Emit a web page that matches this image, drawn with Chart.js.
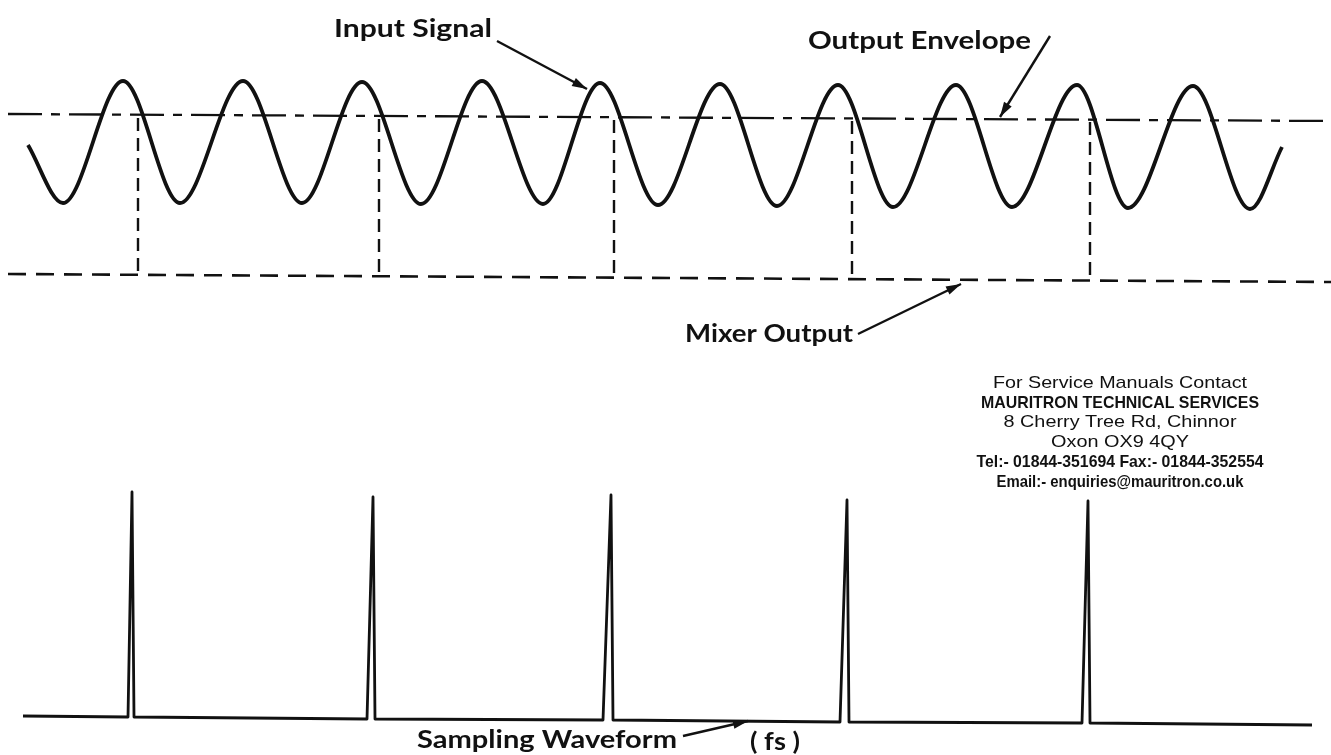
<!DOCTYPE html>
<html>
<head>
<meta charset="utf-8">
<script src="https://cdn.jsdelivr.net/npm/chart.js@4/dist/chart.umd.min.js"></script>
<style>
  html, body { margin: 0; background: #fff; }
  #wrap { width: 1331px; height: 755px; }
</style>
</head>
<body>
<div id="wrap"><canvas id="diagram"></canvas></div>
<script>
// everything is in picture units (x right, y down)

// input signal: start, troughs and peaks of the trace
const inputX = [28, 63, 123, 180, 243, 302, 362, 421, 482, 543, 600, 658, 720, 777, 838, 893, 956, 1012, 1077, 1128, 1193, 1250, 1282];
const inputY = [145, 203, 81, 203, 81, 203, 82, 204, 81, 204, 83, 205, 84, 206, 85, 207, 85, 207, 85, 208, 86, 209, 147];

// output envelope (dash-dot) and mixer output (dashed) end points
const envelopeX = [8, 1331];
const envelopeY = [114, 121];
const mixerX = [8, 1331];
const mixerY = [274, 282];

// sample instants: dashed drops from the envelope to the mixer line
const gateX = [138, 379, 614, 852, 1090];
const gateTop = [118, 119, 120, 121, 122];
const gateBottom = [275, 276, 278, 279, 281];

// sampling waveform: baseline with narrow pulses
const sampleX = [23, 128, 132, 134, 367, 373, 375, 603, 611, 613, 840, 847, 849, 1082, 1088, 1090, 1312];
const sampleY = [716, 717, 492, 717, 719, 497, 719, 720, 495, 720, 722, 500, 722, 723, 501, 723, 725];

// callout arrows: [tailX, tailY, tipX, tipY]
const arrowInput = [497, 41, 587, 89];
const arrowEnvelope = [1050, 36, 1000, 117];
const arrowMixer = [858, 334, 961, 284];
const arrowSampling = [683, 736, 748, 721];

const contactLines = [
  'For Service Manuals Contact',
  'MAURITRON TECHNICAL SERVICES',
  '8 Cherry Tree Rd, Chinnor',
  'Oxon OX9 4QY',
  'Tel:- 01844-351694 Fax:- 01844-352554',
  'Email:- enquiries@mauritron.co.uk'
];
const contactBold = [false, true, false, false, true, true];

const pts = (xs, ys) => xs.map((x, i) => ({ x, y: ys[i] }));

const gatePoints = [];
gateX.forEach((x, i) => {
  gatePoints.push({ x, y: gateTop[i] }, { x, y: gateBottom[i] }, { x, y: null });
});

const arrowSet = a => ({
  data: [{ x: a[0], y: a[1] }, { x: a[2], y: a[3] }],
  borderColor: '#111',
  borderWidth: 2.4,
  pointRadius: 0,
  arrow: true
});

// labels drawn in picture units; w = target width
const labels = [
  { text: 'Input Signal', x: 334, y: 37, w: 158 },
  { text: 'Output Envelope', x: 808, y: 49, w: 223 },
  { text: 'Mixer Output', x: 685, y: 342, w: 168 },
  { text: 'Sampling Waveform', x: 417, y: 748, w: 260 },
  { text: '( fs )', x: 750, y: 750, w: 50 }
];

const annotate = {
  id: 'annotate',
  afterDatasetsDraw(chart) {
    const { ctx, scales: { x, y } } = chart;
    ctx.save();
    ctx.fillStyle = '#111';

    // arrow heads
    chart.data.datasets.forEach((ds, i) => {
      if (!ds.arrow) return;
      const p = chart.getDatasetMeta(i).data;
      const a = p[0], b = p[p.length - 1];
      const ang = Math.atan2(b.y - a.y, b.x - a.x);
      const len = 15, half = 4.5;
      ctx.beginPath();
      ctx.moveTo(b.x, b.y);
      ctx.lineTo(b.x - len * Math.cos(ang) + half * Math.sin(ang), b.y - len * Math.sin(ang) - half * Math.cos(ang));
      ctx.lineTo(b.x - len * Math.cos(ang) - half * Math.sin(ang), b.y - len * Math.sin(ang) + half * Math.cos(ang));
      ctx.closePath();
      ctx.fill();
    });

    // big labels, stretched to the scanned width
    ctx.textBaseline = 'alphabetic';
    ctx.font = 'bold 25px Lato';
    labels.forEach(l => {
      const m = ctx.measureText(l.text).width;
      ctx.save();
      ctx.translate(x.getPixelForValue(l.x), y.getPixelForValue(l.y));
      ctx.scale(l.w / m, 1);
      ctx.fillText(l.text, 0, 0);
      ctx.restore();
    });

    // contact block
    const cx = x.getPixelForValue(1120);
    const base = [388, 408, 427, 447, 467, 487];
    const widths = [254, 278, 233, 138, 287, 247];
    ctx.textAlign = 'center';
    contactLines.forEach((t, i) => {
      ctx.font = (contactBold[i] ? 'bold ' : '') + '17px "Liberation Sans"';
      const m = ctx.measureText(t).width;
      ctx.save();
      ctx.translate(cx, y.getPixelForValue(base[i]));
      ctx.scale(widths[i] / m, 1);
      ctx.fillText(t, 0, 0);
      ctx.restore();
    });
    ctx.restore();
  }
};

new Chart(document.getElementById('diagram'), {
  type: 'line',
  data: {
    datasets: [
      {
        label: 'Input Signal',
        data: pts(inputX, inputY),
        borderColor: '#111',
        borderWidth: 3.8,
        cubicInterpolationMode: 'monotone',
        pointRadius: 0
      },
      {
        label: 'Output Envelope',
        data: pts(envelopeX, envelopeY),
        borderColor: '#111',
        borderWidth: 2.3,
        borderDash: [34, 9, 9, 9],
        pointRadius: 0
      },
      {
        label: 'Mixer Output',
        data: pts(mixerX, mixerY),
        borderColor: '#111',
        borderWidth: 2.6,
        borderDash: [18, 10],
        pointRadius: 0
      },
      {
        label: 'Sample drops',
        data: gatePoints,
        borderColor: '#111',
        borderWidth: 2.4,
        borderDash: [13, 7],
        spanGaps: false,
        pointRadius: 0
      },
      {
        label: 'Sampling Waveform',
        data: pts(sampleX, sampleY),
        borderColor: '#111',
        borderWidth: 2.8,
        borderJoinStyle: 'round',
        pointRadius: 0
      },
      arrowSet(arrowInput),
      arrowSet(arrowEnvelope),
      arrowSet(arrowMixer),
      arrowSet(arrowSampling)
    ]
  },
  options: {
    responsive: true,
    maintainAspectRatio: false,
    animation: false,
    layout: { padding: 0 },
    scales: {
      x: { type: 'linear', min: 0, max: 1331, display: false },
      y: { type: 'linear', min: 0, max: 755, reverse: true, display: false }
    },
    plugins: {
      legend: { display: false },
      tooltip: { enabled: false }
    }
  },
  plugins: [annotate]
});
</script>
</body>
</html>
